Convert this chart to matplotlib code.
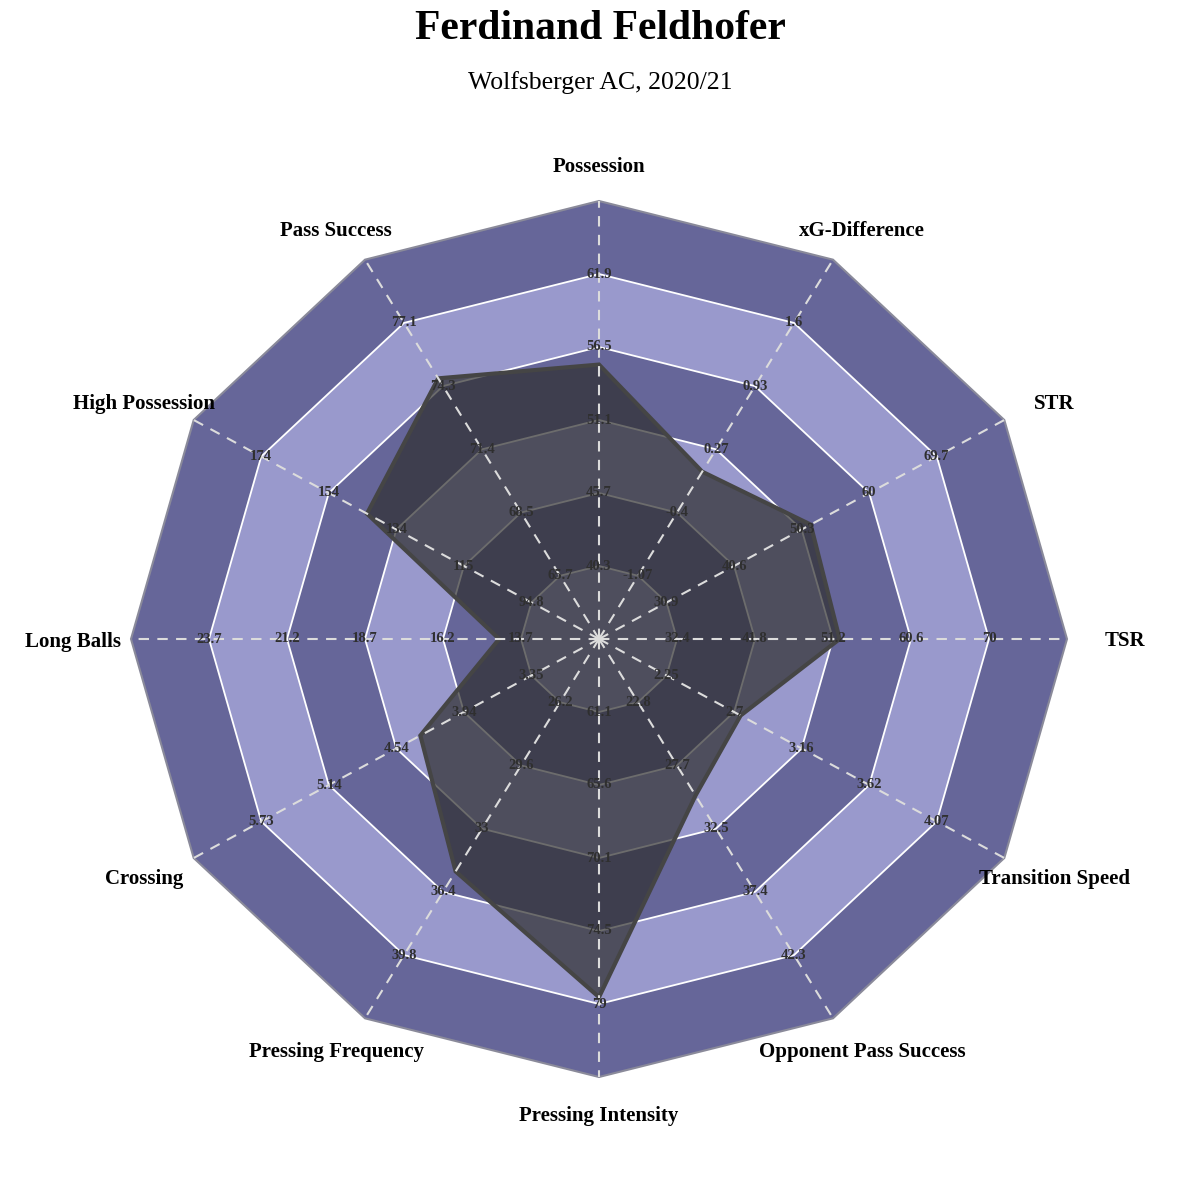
import numpy as np
import matplotlib
matplotlib.use("Agg")
from matplotlib import pyplot as plt
from matplotlib.patches import Polygon

plt.rcParams['font.family'] = ['Liberation Serif', 'DejaVu Serif']

# metrics, clockwise from the top
params = ["Possession", "xG-Difference", "STR", "TSR", "Transition Speed",
          "Opponent Pass Success", "Pressing Intensity", "Pressing Frequency",
          "Crossing", "Long Balls", "High Possession", "Pass Success"]

# values printed on rings 1..5 for each metric
ring_labels = [
    ["40.3", "45.7", "51.1", "56.5", "61.9"],
    ["-1.07", "-0.4", "0.27", "0.93", "1.6"],
    ["30.9", "40.6", "50.3", "60", "69.7"],
    ["32.4", "41.8", "51.2", "60.6", "70"],
    ["2.25", "2.7", "3.16", "3.62", "4.07"],
    ["22.8", "27.7", "32.5", "37.4", "42.3"],
    ["61.1", "65.6", "70.1", "74.5", "79"],
    ["26.2", "29.6", "33", "36.4", "39.8"],
    ["3.35", "3.94", "4.54", "5.14", "5.73"],
    ["13.7", "16.2", "18.7", "21.2", "23.7"],
    ["94.8", "115", "134", "154", "174"],
    ["65.7", "68.5", "71.4", "74.3", "77.1"],
]
# range ends: value on ring 1 and on the outer edge (ring 6)
low = [40.3, -1.07, 30.9, 32.4, 2.25, 22.8, 61.1, 26.2, 3.35, 13.7, 94.8, 65.7]
high = [67.3, 2.27, 79.4, 79.4, 4.53, 47.2, 83.5, 43.2, 6.33, 26.2, 193.8, 79.95]

values = [55.2, 0.03, 51.6, 52.0, 2.75, 30.0, 78.6, 35.3, 4.33, 14.4, 143, 74.6]

title = "Ferdinand Feldhofer"
subtitle = "Wolfsberger AC, 2020/21"

dark = '#666699'
light = '#9999cc'
n = len(params)
theta = np.arange(n) * 2 * np.pi / n
sx, sy = np.sin(theta), np.cos(theta)

fig = plt.figure(figsize=(12, 12), dpi=100)
ax = fig.add_axes([0, 0, 1, 1])
# 78 px per ring horizontally, 73 px vertically, centre at (599, 639)
ax.set_xlim(-599 / 78, 601 / 78)
ax.set_ylim(-(1200 - 639) / 73, 639 / 73)
ax.axis('off')

# ring bands, outermost first
for k in range(6, 0, -1):
    pts = np.column_stack([k * sx, k * sy])
    col = dark if k % 2 == 0 else light
    if k == 6:
        ax.add_patch(Polygon(pts, closed=True, facecolor=col, edgecolor='#8a8a9a', lw=1.5, zorder=1))
    else:
        ax.add_patch(Polygon(pts, closed=True, facecolor=col, edgecolor='white', lw=1.3, zorder=1))

# data polygon
r = [1 + 5 * (v - lo) / (hi - lo) for v, lo, hi in zip(values, low, high)]
r = np.array(r)
ax.add_patch(Polygon(np.column_stack([r * sx, r * sy]), closed=True,
                     facecolor='#2e2e2e', alpha=0.7, edgecolor='none', zorder=2))
ax.add_patch(Polygon(np.column_stack([r * sx, r * sy]), closed=True,
                     facecolor='none', edgecolor='#454545', lw=3, zorder=3))

# spokes
for i in range(n):
    ax.plot([0, 6 * sx[i]], [0, 6 * sy[i]], color='#dcdcdc', lw=1.5,
            ls=(0, (5, 4)), zorder=4)

# ring value labels
for i in range(n):
    for k, lab in enumerate(ring_labels[i], start=1):
        ax.text(k * sx[i], k * sy[i], lab, ha='center', va='center',
                fontsize=10.5, fontweight='bold', color='#2f2f2f', zorder=5)

# metric names
for i in range(n):
    ax.text(6.74 * sx[i], 6.5 * sy[i], params[i], ha='center', va='center_baseline',
            fontsize=15, fontweight='bold', color='black', zorder=5)

fig.text(0.5, 1 - 29 / 1200, title, ha='center', va='center',
         fontsize=30, fontweight='bold')
fig.text(0.5, 1 - 83 / 1200, subtitle, ha='center', va='center', fontsize=18.5)

fig.savefig('out.png', dpi=100)
